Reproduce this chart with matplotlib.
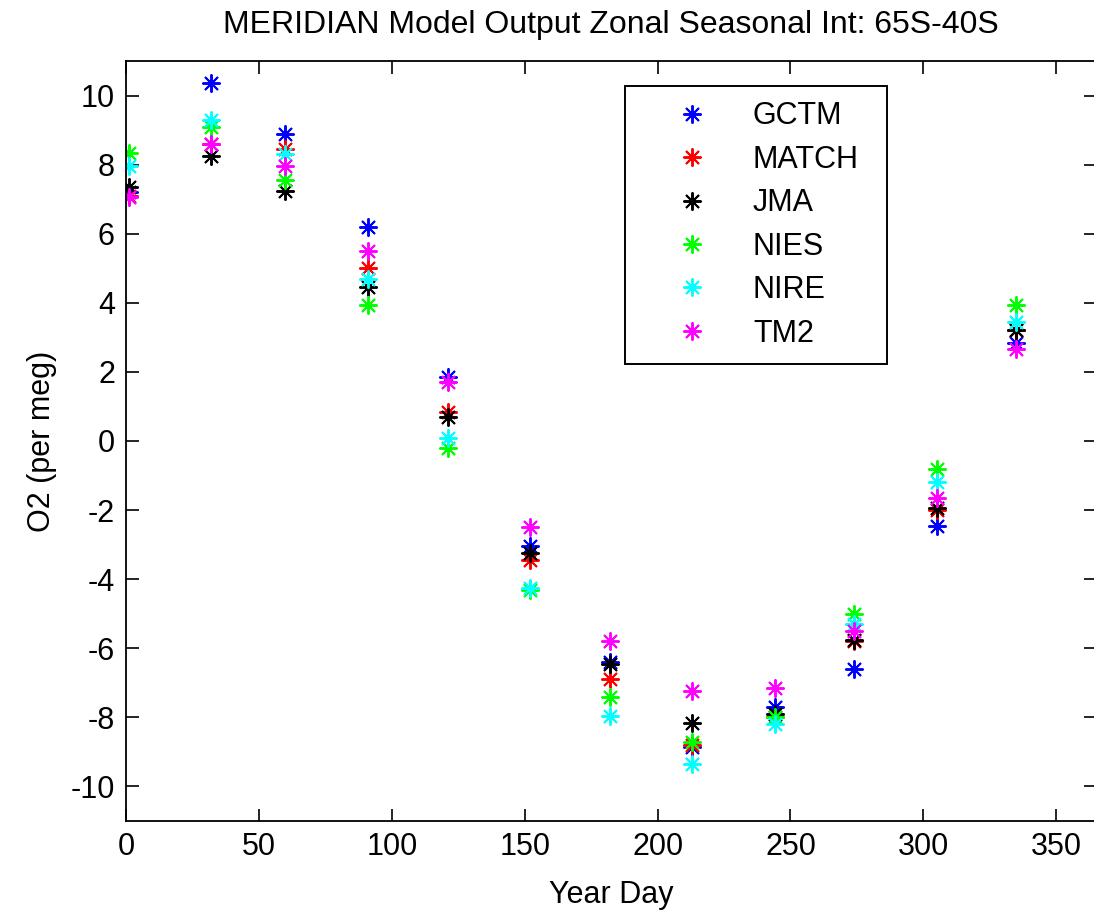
import matplotlib
matplotlib.use('Agg')
import matplotlib.pyplot as plt

plt.rcParams['font.family'] = ['Liberation Sans', 'DejaVu Sans']
plt.rcParams['axes.unicode_minus'] = False

# first day of each month
year_day = [1, 32, 60, 91, 121, 152, 182, 213, 244, 274, 305, 335]

gctm = [7.2, 10.35, 8.9, 6.2, 1.85, -3.05, -6.4, -8.85, -7.7, -6.6, -2.45, 2.85]
match = [7.1, 8.6, 8.45, 5.0, 0.85, -3.45, -6.9, -8.8, -8.0, -5.8, -2.0, 3.2]
jma = [7.35, 8.25, 7.25, 4.45, 0.7, -3.25, -6.45, -8.15, -7.9, -5.75, -1.95, 3.2]
nies = [8.35, 9.1, 7.55, 3.95, -0.2, -4.3, -7.4, -8.7, -8.0, -5.0, -0.8, 3.95]
nire = [7.95, 9.3, 8.3, 4.7, 0.1, -4.25, -7.95, -9.35, -8.2, -5.3, -1.2, 3.45]
tm2 = [7.05, 8.6, 7.95, 5.5, 1.7, -2.5, -5.8, -7.25, -7.15, -5.5, -1.65, 2.65]

models = ['GCTM', 'MATCH', 'JMA', 'NIES', 'NIRE', 'TM2']
colors = ['#0000ff', '#ff0000', '#000000', '#00ff00', '#00ffff', '#ff00ff']

fig = plt.figure(figsize=(10.94, 9.14), dpi=100)
ax = fig.add_axes([0.1152, 0.1018, 0.8867, 0.8315])

star = (8, 2, 0)  # 8-armed asterisk
for name, vals, c in zip(models, [gctm, match, jma, nies, nire, tm2], colors):
    ax.plot(year_day, vals, linestyle='none', marker=star, markersize=13,
            markeredgewidth=1.4, color=c, label=name)

ax.set_xlim(0, 365)
ax.set_ylim(-11, 11)
ax.set_xticks(range(0, 351, 50))
ax.set_yticks(range(-10, 11, 2))
ax.tick_params(direction='in', length=9, width=1.2, top=True, right=True,
               labelsize=22, pad=8)
for s in ax.spines.values():
    s.set_linewidth(1.3)
ax.spines['right'].set_visible(False)

ax.set_title('MERIDIAN Model Output Zonal Seasonal Int: 65S-40S', fontsize=23, pad=20)
ax.set_xlabel('Year Day', fontsize=22, labelpad=13)
ax.set_ylabel('O2 (per meg)', fontsize=22, labelpad=10)

leg = ax.legend(loc='upper left', bbox_to_anchor=(0.514, 0.967, 0.270, 0.0),
                mode='expand', fontsize=22, numpoints=1,
                frameon=True, fancybox=False, edgecolor='black', framealpha=1,
                handlelength=3.4, handletextpad=0.3, borderpad=0.5,
                labelspacing=0.44, borderaxespad=0)
leg.get_frame().set_linewidth(1.4)

fig.savefig('out.png', dpi=100)
